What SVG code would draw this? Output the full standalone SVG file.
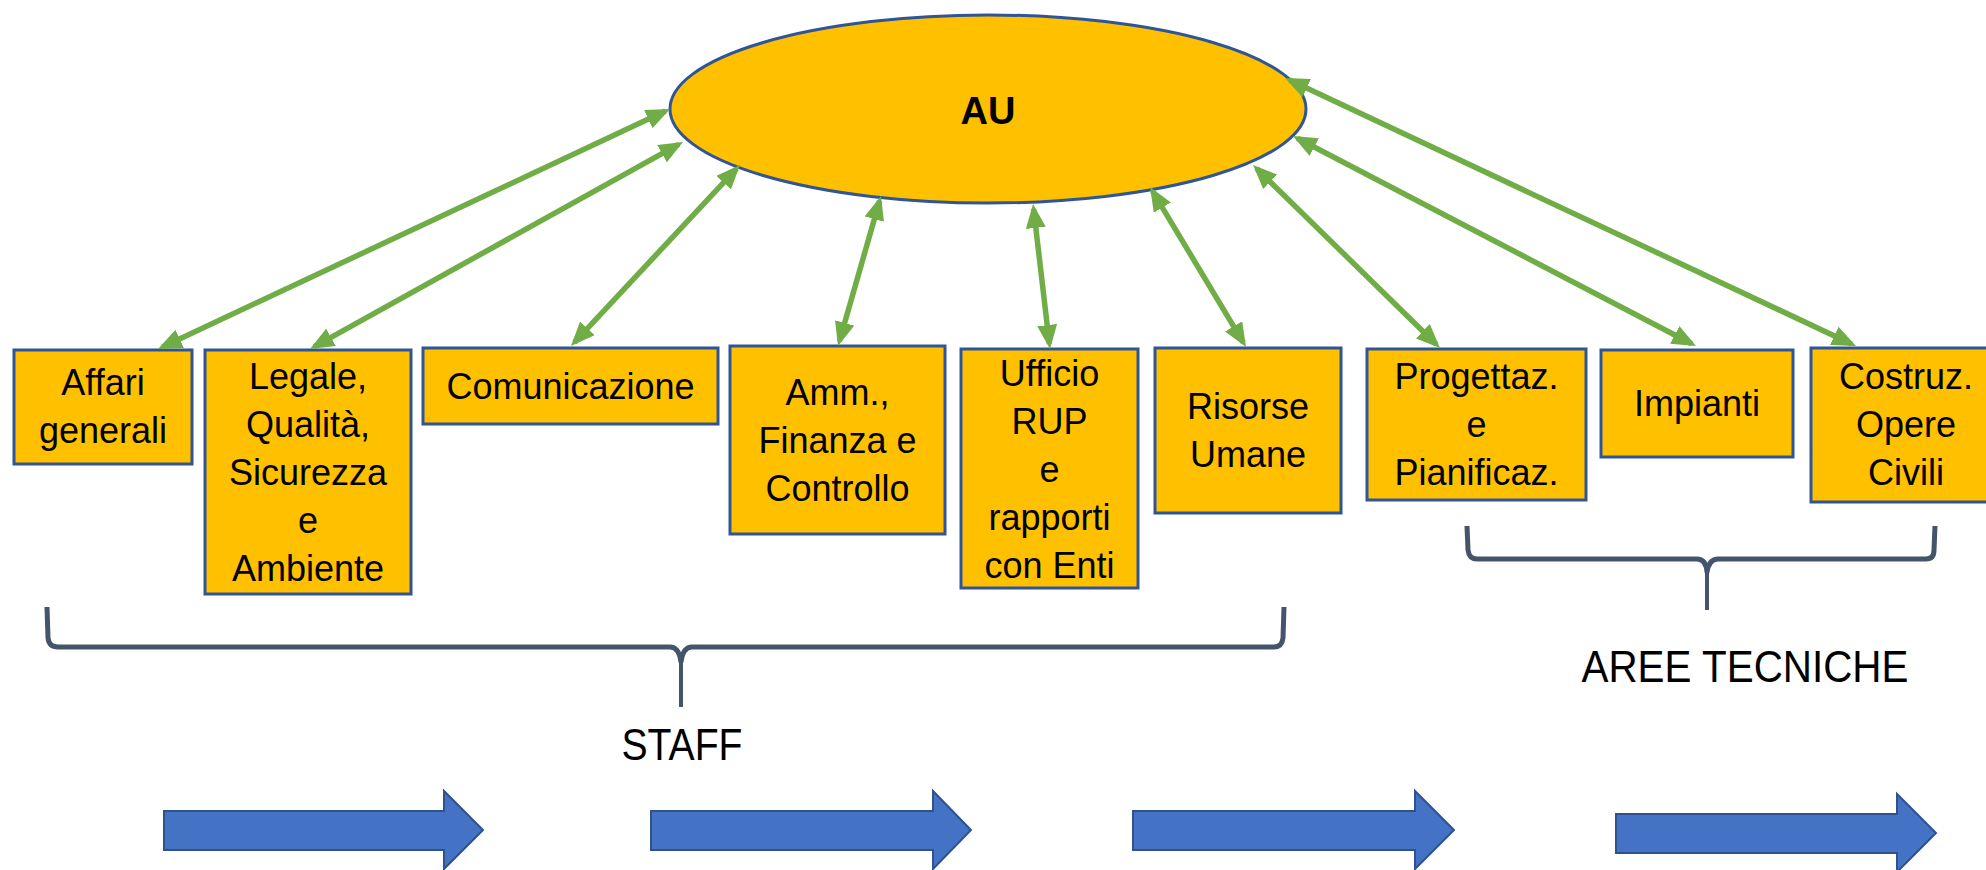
<svg xmlns="http://www.w3.org/2000/svg" width="1986" height="870" viewBox="0 0 1986 870">
<style>
.box{fill:#FFC000;stroke:#2F5597;stroke-width:3}
.t{font-family:"Liberation Sans",Arial,sans-serif;font-size:36px;fill:#000;text-anchor:middle}
.conn{stroke:#70AD47;stroke-width:5.5;fill:none;marker-start:url(#ah);marker-end:url(#ah)}
.brace{stroke:#44546A;stroke-width:5;fill:none;stroke-linejoin:round}
.stem{stroke:#44546A;stroke-width:4;fill:none}
.blk{fill:#4472C4;stroke:#2F528F;stroke-width:2}
.lbl{font-family:"Liberation Sans",Arial,sans-serif;font-size:44px;fill:#000;text-anchor:middle}
</style>
<defs>
<marker id="ah" markerUnits="userSpaceOnUse" markerWidth="24" markerHeight="20" refX="19" refY="10" orient="auto-start-reverse">
<path d="M0,0 L24,10 L0,20 z" fill="#70AD47"/>
</marker>
</defs>
<rect width="1986" height="870" fill="#fff"/>

<g id="au">
<ellipse cx="988" cy="109" rx="318" ry="94" fill="#FFC000" stroke="#2F5597" stroke-width="3"/>
<text x="988" y="124" font-family="Liberation Sans,Arial,sans-serif" font-size="38" font-weight="bold" text-anchor="middle">AU</text>
</g>

<g id="affari">
<rect class="box" x="14" y="350" width="178" height="114"/>
<text class="t" x="103" y="395">Affari</text>
<text class="t" x="103" y="443">generali</text>
</g>
<g id="legale">
<rect class="box" x="205" y="350" width="206" height="244"/>
<text class="t" x="308" y="389">Legale,</text>
<text class="t" x="308" y="437">Qualità,</text>
<text class="t" x="308" y="485">Sicurezza</text>
<text class="t" x="308" y="533">e</text>
<text class="t" x="308" y="581">Ambiente</text>
</g>
<g id="comunicazione">
<rect class="box" x="423" y="348" width="295" height="76"/>
<text class="t" x="570.5" y="399">Comunicazione</text>
</g>
<g id="amm">
<rect class="box" x="730" y="346" width="215" height="188"/>
<text class="t" x="837.5" y="405">Amm.,</text>
<text class="t" x="837.5" y="453">Finanza e</text>
<text class="t" x="837.5" y="501">Controllo</text>
</g>
<g id="ufficio">
<rect class="box" x="961" y="349" width="177" height="239"/>
<text class="t" x="1049.5" y="386">Ufficio</text>
<text class="t" x="1049.5" y="434">RUP</text>
<text class="t" x="1049.5" y="482">e</text>
<text class="t" x="1049.5" y="530">rapporti</text>
<text class="t" x="1049.5" y="578">con Enti</text>
</g>
<g id="risorse">
<rect class="box" x="1155" y="348" width="186" height="165"/>
<text class="t" x="1248" y="419">Risorse</text>
<text class="t" x="1248" y="467">Umane</text>
</g>
<g id="progettaz">
<rect class="box" x="1367" y="349" width="219" height="151"/>
<text class="t" x="1476.5" y="389">Progettaz.</text>
<text class="t" x="1476.5" y="437">e</text>
<text class="t" x="1476.5" y="485">Pianificaz.</text>
</g>
<g id="impianti">
<rect class="box" x="1601" y="350" width="192" height="107"/>
<text class="t" x="1697" y="416">Impianti</text>
</g>
<g id="costruz">
<rect class="box" x="1811" y="348" width="190" height="154"/>
<text class="t" x="1906" y="389">Costruz.</text>
<text class="t" x="1906" y="437">Opere</text>
<text class="t" x="1906" y="485">Civili</text>
</g>

<g id="connectors">
<line class="conn" x1="162.5" y1="346.9" x2="665.5" y2="111.1"/>
<line class="conn" x1="314.4" y1="346.6" x2="678.6" y2="144.4"/>
<line class="conn" x1="574.4" y1="342.3" x2="736.6" y2="168.7"/>
<line class="conn" x1="839.4" y1="341.2" x2="879.6" y2="200.8"/>
<line class="conn" x1="1049.4" y1="344" x2="1033.6" y2="209"/>
<line class="conn" x1="1243.4" y1="342.7" x2="1152.6" y2="191.3"/>
<line class="conn" x1="1436.4" y1="344.5" x2="1256.6" y2="168.5"/>
<line class="conn" x1="1691.6" y1="343.7" x2="1297.4" y2="138.3"/>
<line class="conn" x1="1851.5" y1="343.9" x2="1289.5" y2="80.1"/>
</g>

<g id="staff-brace">
<path class="brace" d="M47,607 L48,638 Q49,647 58,647 L670,647 Q679,647 681,662 Q683,647 692,647 L1274,647 Q1282,647 1283,638 L1284,607"/>
<path class="stem" d="M681,658 L681,707"/>
<text class="lbl" x="682" y="760" textLength="121" lengthAdjust="spacingAndGlyphs">STAFF</text>
</g>
<g id="aree-brace">
<path class="brace" d="M1467,526 L1468,550 Q1469,559 1477,559 L1697,559 Q1706,559 1707,572 Q1709,559 1718,559 L1926,559 Q1934,559 1934,550 L1935,526"/>
<path class="stem" d="M1707,568 L1707,610"/>
<text class="lbl" x="1745" y="682" textLength="327" lengthAdjust="spacingAndGlyphs">AREE TECNICHE</text>
</g>

<g id="flow-arrows">
<polygon class="blk" points="164,811 444,811 444,791 483,830 444,869 444,850 164,850"/>
<polygon class="blk" points="651,811 933,811 933,791 971,830 933,869 933,850 651,850"/>
<polygon class="blk" points="1133,811 1415,811 1415,791 1454,830 1415,869 1415,850 1133,850"/>
<polygon class="blk" points="1616,814 1897,814 1897,794 1936,833 1897,872 1897,853 1616,853"/>
</g>
</svg>
